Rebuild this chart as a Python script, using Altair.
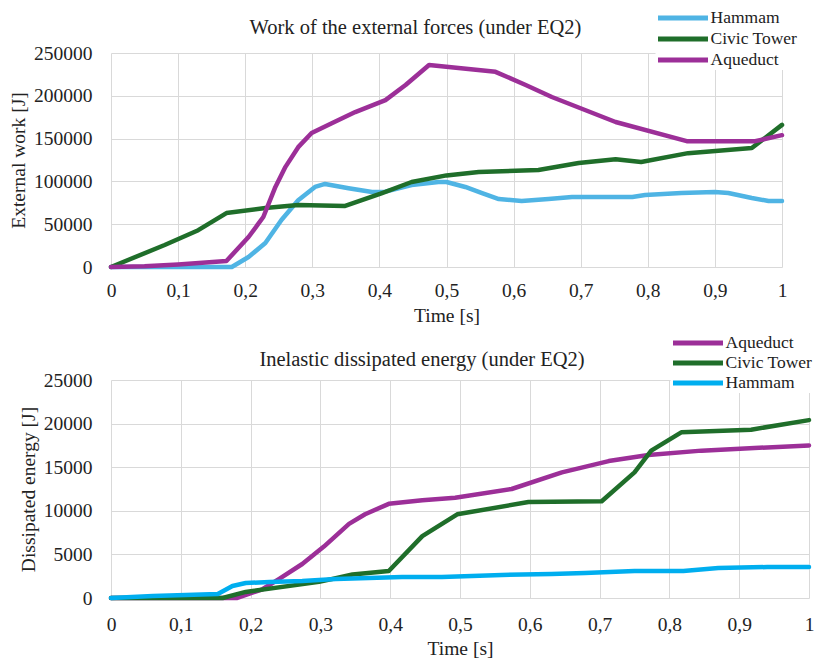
import altair as alt
import pandas as pd

# ---------------- data ----------------
X_TICKS = [0, 0.1, 0.2, 0.3, 0.4, 0.5, 0.6, 0.7, 0.8, 0.9, 1]
TOP_Y_TICKS = [0, 50000, 100000, 150000, 200000, 250000]
BOT_Y_TICKS = [0, 5000, 10000, 15000, 20000, 25000]

# Top panel: Work of the external forces (under EQ2)
top_hammam_t = [0, 0.1, 0.18, 0.205, 0.23, 0.254, 0.279, 0.304, 0.319, 0.354, 0.389, 0.409,
                0.448, 0.488, 0.5, 0.528, 0.553, 0.578, 0.612, 0.652, 0.687, 0.777, 0.796,
                0.85, 0.9, 0.92, 0.955, 0.98, 1.0]
top_hammam_v = [0, 0, 0, 11700, 28000, 55000, 78000, 93500, 97000, 92000, 87600, 88000,
                95800, 99300, 99300, 93500, 86400, 79400, 77100, 79400, 81800, 81800, 84100,
                86400, 87600, 86400, 80600, 77100, 77100]

top_civic_t = [0, 0.08, 0.13, 0.172, 0.23, 0.279, 0.349, 0.404, 0.448, 0.5, 0.548, 0.637,
               0.697, 0.752, 0.79, 0.86, 0.955, 1.0]
top_civic_v = [0, 25700, 43000, 63000, 69000, 72400, 71300, 86400, 99300, 107000, 111000,
               113300, 121500, 126000, 122700, 133000, 139000, 166000]

top_aqueduct_t = [0, 0.05, 0.1, 0.172, 0.205, 0.227, 0.245, 0.26, 0.279, 0.299, 0.329, 0.364,
                  0.409, 0.439, 0.474, 0.573, 0.618, 0.657, 0.752, 0.858, 0.96, 1.0]
top_aqueduct_v = [0, 1000, 3000, 7000, 35000, 58400, 93500, 117000, 140000, 156500, 168000,
                  181000, 195000, 212600, 236000, 228000, 212600, 198600, 169400, 147000,
                  147000, 154000]

# Bottom panel: Inelastic dissipated energy (under EQ2)
bot_aqueduct_t = [0, 0.1, 0.18, 0.217, 0.241, 0.274, 0.305, 0.341, 0.364, 0.398, 0.446, 0.493,
                  0.574, 0.646, 0.713, 0.77, 0.846, 1.0]
bot_aqueduct_v = [0, 0, 0, 1000, 2200, 3900, 5900, 8500, 9600, 10800, 11200, 11500, 12500,
                  14400, 15700, 16400, 16900, 17500]

bot_civic_t = [0, 0.16, 0.193, 0.298, 0.346, 0.398, 0.446, 0.496, 0.598, 0.703, 0.75, 0.774,
               0.817, 0.917, 1.0]
bot_civic_v = [0, 0, 700, 1850, 2700, 3100, 7100, 9600, 11000, 11100, 14400, 16900, 19000,
               19300, 20400]

bot_hammam_t = [0, 0.06, 0.107, 0.153, 0.174, 0.193, 0.227, 0.274, 0.322, 0.417, 0.474, 0.56,
                0.631, 0.679, 0.75, 0.82, 0.87, 0.94, 1.0]
bot_hammam_v = [0, 230, 340, 460, 1380, 1720, 1840, 1950, 2180, 2400, 2400, 2640, 2750, 2870,
                3100, 3100, 3440, 3550, 3550]

TOP_ORDER = ["Hammam", "Civic Tower", "Aqueduct"]
TOP_COLORS = ["#4FB4E4", "#1F6E2A", "#9C2F98"]
BOT_ORDER = ["Aqueduct", "Civic Tower", "Hammam"]
BOT_COLORS = ["#9C2F98", "#1F6E2A", "#00AEEF"]


def build(series):
    rows = []
    for name, ts, vs in series:
        for i, (t, v) in enumerate(zip(ts, vs)):
            rows.append({"series": name, "t": t, "v": v, "i": i})
    return pd.DataFrame(rows)


top_df = build([
    ("Hammam", top_hammam_t, top_hammam_v),
    ("Civic Tower", top_civic_t, top_civic_v),
    ("Aqueduct", top_aqueduct_t, top_aqueduct_v),
])
bot_df = build([
    ("Aqueduct", bot_aqueduct_t, bot_aqueduct_v),
    ("Civic Tower", bot_civic_t, bot_civic_v),
    ("Hammam", bot_hammam_t, bot_hammam_v),
])

FONT = "Liberation Serif"
TXT = "#222222"


def x_axis(pad, tpad):
    return alt.Axis(values=X_TICKS, format=".1~f",
                    labelExpr="replace(datum.label, '.', ',')",
                    title="Time [s]", labelPadding=pad, titlePadding=tpad,
                    labelFlush=False, labelOverlap=False)


def legend(lx, ly, row_pad):
    return alt.Legend(orient="none", legendX=lx, legendY=ly, title=None,
                      direction="vertical", symbolType="stroke", symbolSize=2500,
                      symbolStrokeWidth=5, clipHeight=20, rowPadding=row_pad,
                      labelOffset=0, padding=0, fillColor="white",
                      labelFont=FONT, labelFontSize=17.5, labelColor=TXT)


def title(text, dy, dx):
    return alt.TitleParams(text, font=FONT, fontSize=20.5, fontWeight="normal", color=TXT,
                           baseline="alphabetic", offset=0, dy=dy, anchor="middle",
                           frame="group", dx=dx)


top = alt.Chart(top_df).mark_line(strokeWidth=4.5, strokeCap="round", strokeJoin="round").encode(
    x=alt.X("t:Q", scale=alt.Scale(domain=[0, 1], nice=False), axis=x_axis(14, 7)),
    y=alt.Y("v:Q", scale=alt.Scale(domain=[0, 250000], nice=False),
            axis=alt.Axis(values=TOP_Y_TICKS, format="d", title="External work [J]",
                          labelPadding=19, titlePadding=5, labelFlush=False)),
    color=alt.Color("series:N", scale=alt.Scale(domain=TOP_ORDER, range=TOP_COLORS),
                    legend=legend(544.5, -45, 1)),
    detail="series:N",
    order="i:Q",
).properties(
    width=671, height=214,
    title=title("Work of the external forces (under EQ2)", 11.5, -31),
)

bottom = alt.Chart(bot_df).mark_line(strokeWidth=4.5, strokeCap="round", strokeJoin="round").encode(
    x=alt.X("t:Q", scale=alt.Scale(domain=[0, 1], nice=False), axis=x_axis(17, 6)),
    y=alt.Y("v:Q", scale=alt.Scale(domain=[0, 25000], nice=False),
            axis=alt.Axis(values=BOT_Y_TICKS, format="d", title="Dissipated energy [J]",
                          labelPadding=19, titlePadding=5, labelFlush=False)),
    stroke=alt.Stroke("series:N", scale=alt.Scale(domain=BOT_ORDER, range=BOT_COLORS),
                      legend=legend(559.5, 280, 0)),
    detail="series:N",
    order="i:Q",
).properties(
    width=698, height=218,
    title=title("Inelastic dissipated energy (under EQ2)", 16.5, -38),
)

chart = alt.vconcat(top, bottom, spacing=25).resolve_scale(
    color="shared", stroke="shared"
).resolve_legend(
    color="shared", stroke="shared"
).properties(
    padding={"left": 0, "top": 0, "right": 0, "bottom": 0}
).configure_view(
    stroke=None
).configure_axis(
    grid=True, gridColor="#D9D9D9", gridWidth=1, domain=False, ticks=False,
    labelFont=FONT, labelFontSize=19.5, labelColor=TXT,
    titleFont=FONT, titleFontSize=19.5, titleFontWeight="normal", titleColor=TXT,
)

chart.save("out.html", embed_options={"renderer": "svg", "actions": False})
